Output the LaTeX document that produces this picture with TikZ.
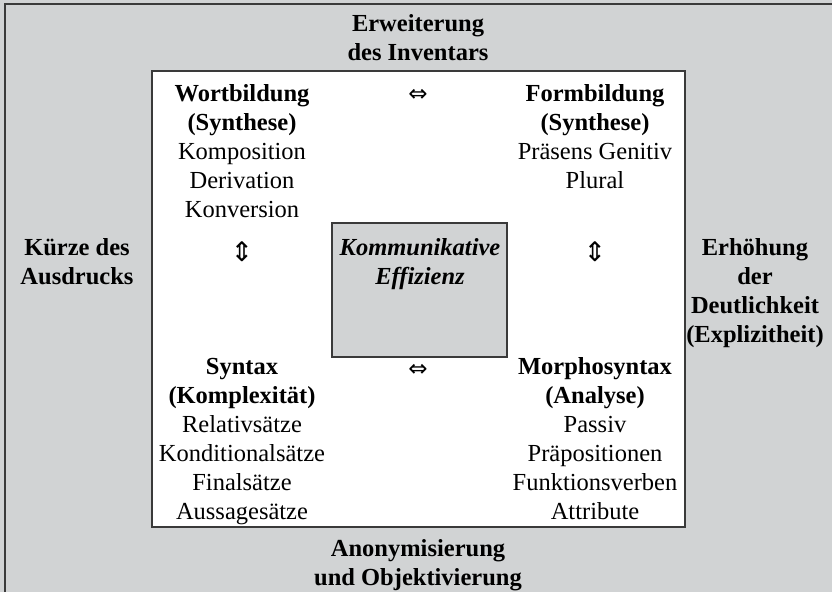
\documentclass[tikz,border=0pt]{standalone}
\usepackage{fontspec}
\setmainfont{Liberation Serif}
\newfontfamily\arrowfont{DejaVu Sans}
\definecolor{boxgray}{HTML}{D1D3D4}
\definecolor{linegray}{HTML}{3A3A3A}
\begin{document}
\begin{tikzpicture}[x=1pt,y=-1pt,
	every node/.style={align=center,inner sep=0pt,anchor=base,font=\fontsize{24.5}{29}\selectfont},
	title/.style={font=\fontsize{24.5}{29}\selectfont\bfseries},
	arrowsign/.style={font=\fontsize{23}{26}\selectfont\arrowfont}]
	\useasboundingbox (0,0) rectangle (832,592);
	\fill[boxgray] (0,0) rectangle (832,592);
	\draw[linegray,line width=2.5pt] (5,592) -- (5,4) -- (832,4);
	\draw[linegray,fill=white,line width=1.5pt] (152,71) rectangle (685,527);
	\draw[linegray,fill=boxgray,line width=1.2pt] (332,223) rectangle (507,357);

	% outer labels (placed at the baseline of their last line)
	\node[title] (top) at (418,60) {Erweiterung\\des Inventars};
	\node[title] (bottom) at (418,585) {Anonymisierung\\und Objektivierung};
	\node[title] (left) at (77,284) {Kürze des\\Ausdrucks};
	\node[title] (right) at (755,342) {Erhöhung\\der\\Deutlichkeit\\(Explizitheit)};

	% four fields
	\node (wort) at (242,217) {\textbf{Wortbildung}\\\textbf{(Synthese)}\\Komposition\\Derivation\\Konversion};
	\node (form) at (595,188) {\textbf{Formbildung}\\\textbf{(Synthese)}\\Präsens Genitiv\\Plural};
	\node (syntax) at (242,519) {\textbf{Syntax}\\\textbf{(Komplexität)}\\Relativsätze\\Konditionalsätze\\Finalsätze\\Aussagesätze};
	\node (morph) at (595,519) {\textbf{Morphosyntax}\\\textbf{(Analyse)}\\Passiv\\Präpositionen\\Funktionsverben\\Attribute};

	% centre
	\node[font=\fontsize{24.5}{29}\selectfont\bfseries\itshape] (effizienz) at (420,284) {Kommunikative\\Effizienz};

	% arrows
	\node[arrowsign] (a1) at (418,101) {⇔};
	\node[arrowsign] (a2) at (418,376) {⇔};
	\node[arrowsign,font=\fontsize{27}{30}\selectfont\arrowfont] (a3) at (242,261) {⇕};
	\node[arrowsign,font=\fontsize{27}{30}\selectfont\arrowfont] (a4) at (595,261) {⇕};
\end{tikzpicture}
\end{document}
